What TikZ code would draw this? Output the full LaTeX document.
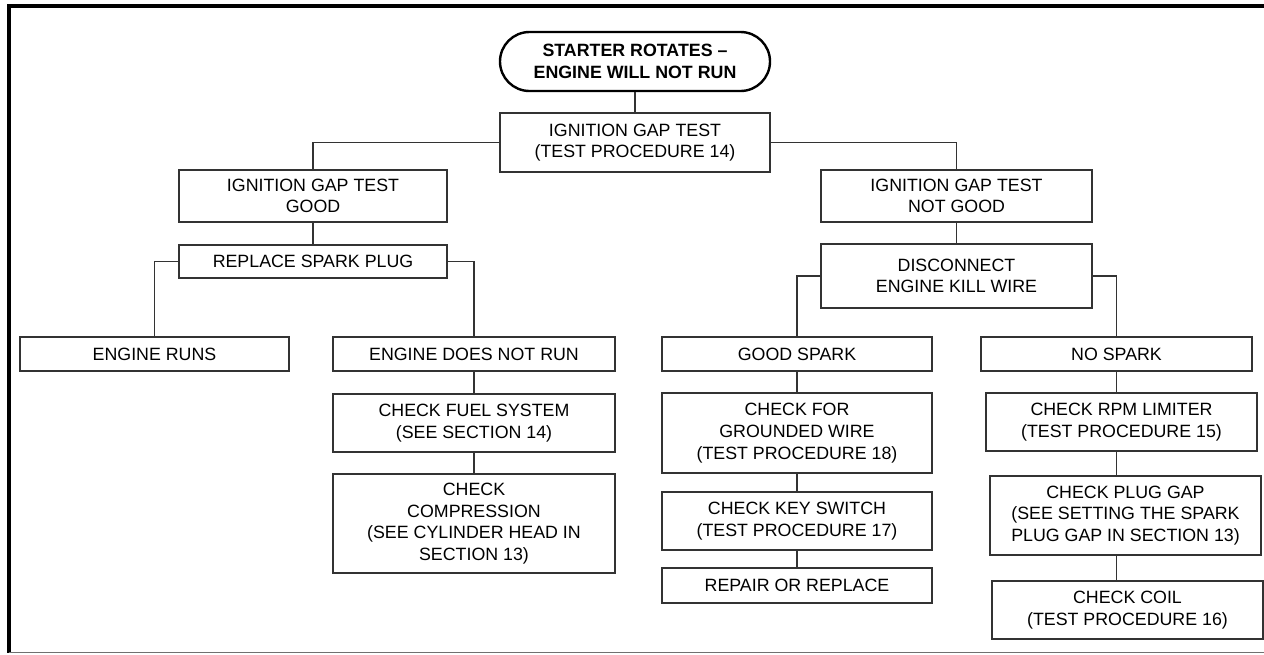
\documentclass[tikz,border=0pt]{standalone}
\usepackage{fontspec}
\setmainfont{Liberation Sans}
\usetikzlibrary{positioning}
\definecolor{edge}{HTML}{333333}
\definecolor{rule}{HTML}{707070}

\begin{document}
\begin{tikzpicture}[x=.5pt,y=-.5pt,
  box/.style={draw=edge,line width=.65pt,align=center,inner sep=0pt,font=\fontsize{8.9}{10.85}\selectfont},
  start/.style={box,draw=black,line width=1.2pt,rounded corners=14.75pt,font=\fontsize{8.9}{10.85}\selectfont\bfseries},
  link/.style={draw=edge,line width=.65pt}]
\useasboundingbox (0,0) rectangle (1264,654);
\draw[line width=2pt] (1264,6) -| (9,653);
\draw[rule,line width=.75pt] (9,652.5) -- (1264,652.5);

\node[start,minimum width=135pt,minimum height=29.5pt] (rotates) at (635,61.5) {STARTER ROTATES –\\ENGINE WILL NOT RUN};
\node[box,minimum width=135pt,minimum height=29.5pt] (gaptest) at (635,142.5) {IGNITION GAP TEST\\(TEST PROCEDURE 14)};
\node[box,minimum width=134pt,minimum height=26pt] (gapgood) at (313,196) {IGNITION GAP TEST\\GOOD};
\node[box,minimum width=135.5pt,minimum height=26pt] (gapbad) at (956.5,196) {IGNITION GAP TEST\\NOT GOOD};
\node[box,minimum width=134pt,minimum height=16.5pt] (plug) at (313,261.5) {REPLACE SPARK PLUG};
\node[box,minimum width=135.5pt,minimum height=32pt] (killwire) at (956.5,276) {DISCONNECT\\ENGINE KILL WIRE};
\node[box,minimum width=134.5pt,minimum height=17pt] (runs) at (154.5,354) {ENGINE RUNS};
\node[box,minimum width=141pt,minimum height=17pt] (norun) at (474,354) {ENGINE DOES NOT RUN};
\node[box,minimum width=141pt,minimum height=29pt] (fuel) at (474,423) {CHECK FUEL SYSTEM\\(SEE SECTION 14)};
\node[box,minimum width=141pt,minimum height=49.5pt] (compress) at (474,523.5) {CHECK\\COMPRESSION\\(SEE CYLINDER HEAD IN\\SECTION 13)};
\node[box,minimum width=135pt,minimum height=17pt] (goodspark) at (797,354) {GOOD SPARK};
\node[box,minimum width=135pt,minimum height=40pt] (grounded) at (797,433) {CHECK FOR\\GROUNDED WIRE\\(TEST PROCEDURE 18)};
\node[box,minimum width=135pt,minimum height=29pt] (keyswitch) at (797,521) {CHECK KEY SWITCH\\(TEST PROCEDURE 17)};
\node[box,minimum width=135pt,minimum height=17.5pt] (repair) at (797,585.5) {REPAIR OR REPLACE};
\node[box,minimum width=135.5pt,minimum height=17pt] (nospark) at (1116.5,354) {NO SPARK};
\node[box,minimum width=135.5pt,minimum height=29pt] (limiter) at (1121.5,422) {CHECK RPM LIMITER\\(TEST PROCEDURE 15)};
\node[box,minimum width=135.5pt,minimum height=39.5pt] (pluggap) at (1125.5,515.5) {CHECK PLUG GAP\\(SEE SETTING THE SPARK\\PLUG GAP IN SECTION 13)};
\node[box,minimum width=135.5pt,minimum height=29pt] (coil) at (1127.5,610) {CHECK COIL\\(TEST PROCEDURE 16)};

\draw[link] (rotates) -- (gaptest);
\draw[link] (gaptest.west) -| (gapgood.north);
\draw[link] (gaptest.east) -| (gapbad.north);
\draw[link] (gapgood) -- (plug);
\draw[link] (gapbad) -- (killwire);
\draw[link] (plug.west) -| (runs.north);
\draw[link] (plug.east) -| (norun.north);
\draw[link] (killwire.west) -| (goodspark.north);
\draw[link] (killwire.east) -| (nospark.north);
\draw[link] (norun) -- (fuel);
\draw[link] (fuel) -- (compress);
\draw[link] (goodspark) -- (grounded);
\draw[link] (grounded) -- (keyswitch);
\draw[link] (keyswitch) -- (repair);
\draw[link] (nospark.south) -- (nospark.south |- limiter.north);
\draw[link] (limiter.south -| nospark.south) -- (pluggap.north -| nospark.south);
\draw[link] (pluggap.south -| nospark.south) -- (coil.north -| nospark.south);
\end{tikzpicture}
\end{document}
